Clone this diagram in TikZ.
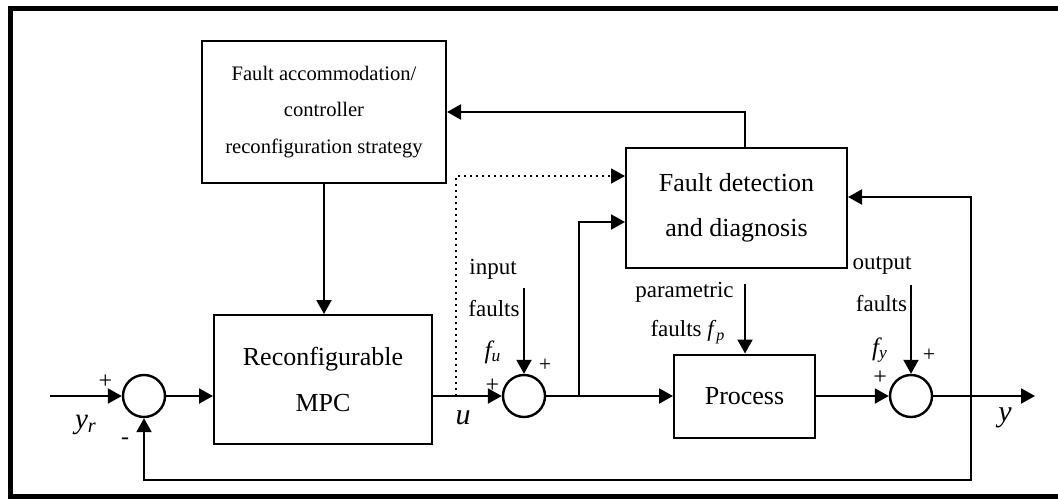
\documentclass[tikz,border=0pt]{standalone}
\usepackage{fontspec}
\setmainfont{Liberation Serif}
\usetikzlibrary{shapes,arrows.meta,positioning,calc}

\begin{document}
\begin{tikzpicture}[x=0.5pt, y=-0.5pt, node distance=100pt, auto]
\tikzstyle{block} = [rectangle, draw, line width=1pt, inner sep=0pt, align=center, font=\fontsize{13}{23}\selectfont]
\tikzstyle{sum} = [circle, draw, line width=1.2pt, minimum size=21pt, inner sep=0pt]
\tikzstyle{line} = [draw, line width=1pt, -{Triangle[length=7pt,width=7.5pt]}]
\tikzstyle{lbl} = [inner sep=0pt, align=center, font=\fontsize{11.5}{20}\selectfont]
\tikzstyle{sgn} = [inner sep=0pt, font=\fontsize{12}{12}\selectfont]

\useasboundingbox (0,0) rectangle (1058,498);
\draw[line width=2.5pt] (1058,8.5) -- (10,8.5) -- (10,496) -- (1058,496);

% blocks
\node [block, minimum width=122pt, minimum height=71pt, font=\fontsize{10.3}{18.25}\selectfont] (accom) at (324,112) {Fault accommodation/\\controller\\reconfiguration strategy};
\node [block, minimum width=109pt, minimum height=64.5pt] (mpc) at (323,379.5) {Reconfigurable\\MPC};
\node [block, minimum width=110.5pt, minimum height=60pt, font=\fontsize{13}{22.5}\selectfont] (fdd) at (736.5,208) {Fault detection\\and diagnosis};
\node [sum] (sum1) at (144,396) {};
\node [sum, right of=sum1, node distance=190pt] (sum2) {};
\node [block, right of=sum2, node distance=110.25pt, minimum width=70.5pt, minimum height=41.5pt] (process) {Process};
\node [sum, right of=process, node distance=83.25pt] (sum3) {};

% free ends and branch points
\coordinate (yrin) at (50,396);
\coordinate (ubr) at (456,396);
\coordinate (br1) at (579,396);
\coordinate (br2) at (971,396);
\coordinate (yout) at (1035,396);
\coordinate (fbk) at (971,480);
\coordinate (fuin) at (524,288);
\coordinate (fpin) at (745,284);
\coordinate (fyin) at (911,285);

% labels
\node [sgn] (plus1) at (105.5,382) {+};
\node [inner sep=0pt, font=\fontsize{14.5}{14.5}\selectfont\itshape] (yr) at (86,425) {y\textsubscript{r}};
\node [sgn] (minus1) at (125,441) {-};
\node [inner sep=0pt, font=\fontsize{15}{15}\selectfont\itshape] (ulbl) at (463,418) {u};
\node [sgn] (plus2) at (492.5,385.5) {+};
\node [sgn, font=\fontsize{11}{11}\selectfont] (plus3) at (545,365.5) {+};
\node [lbl] (input) at (493,269) {input};
\node [lbl] (ifaults) at (494,309) {faults};
\node [lbl, font=\fontsize{12.5}{12.5}\selectfont\itshape] (fu) at (493,352) {f\textsubscript{u}};
\node [lbl] (param) at (684.5,292) {parametric};
\node [lbl] (pfaults) at (688,332) {faults \textit{f}\textsubscript{\textit{p}}};
\node [lbl] (output) at (882,265) {output};
\node [lbl] (ofaults) at (881.5,304) {faults};
\node [lbl, font=\fontsize{12.5}{12.5}\selectfont\itshape] (fy) at (880,350) {f\textsubscript{y}};
\node [sgn] (plus4) at (880,378) {+};
\node [sgn, font=\fontsize{11}{11}\selectfont] (plus5) at (929,355) {+};
\node [inner sep=0pt, font=\fontsize{15}{15}\selectfont\itshape] (ylbl) at (1005,418) {y};

% connectors
\path [line] (yrin) -- (sum1);
\path [line] (sum1) -- (sum1 -| mpc.west);
\path [line] (mpc.east |- sum2) -- (sum2);
\path [line] (sum2) -- (process);
\path [line] (process) -- (sum3);
\path [line] (sum3) -- (yout);
\path [line] (accom.south) -- (accom.south |- mpc.north);
\path [line] (fuin) -- (sum2);
\path [line] (fpin) -- (fpin |- process.north);
\path [line] (fyin) -- (sum3);
\path [line] (br1) |- ($(fdd.west)+(0,14)$);
\path [line, dotted, line width=0.6pt] (ubr) |- ($(fdd.west)+(0,-32)$);
\path [line] ($(fdd.north)+(8.5,0)$) |- (accom.east);
\path [line] (br2) |- ($(fdd.east)+(0,-11)$);
\path [line] (br2) -- (fbk) -| (sum1.south);
\end{tikzpicture}
\end{document}
